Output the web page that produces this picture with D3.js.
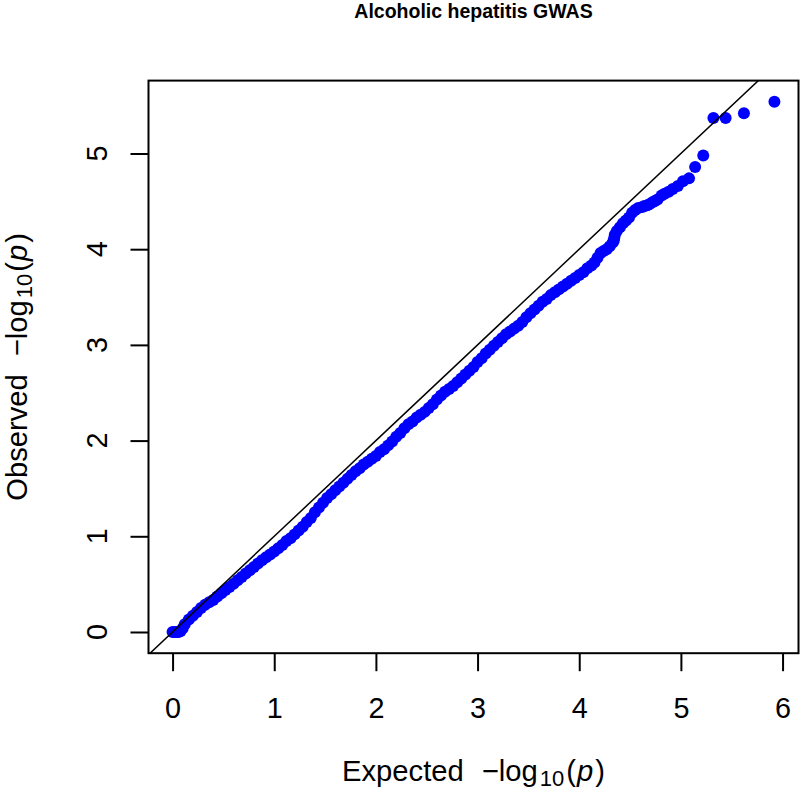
<!DOCTYPE html>
<html><head><meta charset="utf-8">
<script src="https://cdn.jsdelivr.net/npm/d3@7"></script>
<style>body{margin:0;background:#fff} svg{display:block;font-family:"Liberation Sans",Arial,Helvetica,sans-serif}</style>
</head><body><svg id="c" width="800" height="791"></svg>
<script>
const title = "Alcoholic hepatitis GWAS";
const xTicks = [0, 1, 2, 3, 4, 5, 6];
const yTicks = [0, 1, 2, 3, 4, 5];
const expected = [5.92,5.62,5.44,5.32,5.22,5.14,5.08,5.02,4.97,4.92,4.88,4.84,4.81,4.77,4.74,4.72,4.69,4.67,4.64,4.62,4.58,4.55,4.52,4.49,4.46,4.43,4.40,4.37,4.35,4.345,4.34,4.33,4.30,4.27,4.24,4.21,4.18,4.15,4.12,4.08,4.04,4.00,
3.96,3.92,3.88,3.84,3.80,3.76,3.72,3.68,3.64,3.60,3.56,3.52,3.48,3.44,3.40,3.36,3.32,3.28,3.24,3.20,3.16,3.12,3.08,3.04,3.00,2.96,2.92,2.88,2.84,2.80,2.76,2.72,2.68,2.64,2.60,2.56,2.52,2.48,2.44,2.40,2.36,2.32,2.28,2.24,2.20,2.16,2.12,2.08,2.04,2.00,1.96,1.92,1.88,1.84,1.80,1.76,1.72,1.68,1.64,1.60,1.56,1.52,1.48,1.44,1.40,1.36,1.32,1.28,1.24,1.20,1.16,1.12,1.08,1.04,1.00,0.96,0.92,0.88,0.84,0.80,0.76,0.72,0.68,0.64,0.60,0.56,0.52,0.48,0.44,0.40,0.36,0.32,0.28,0.24,0.20,0.16,0.12,0.10,0.08,0.06,0.04,0.02,0.00];
const observed = [5.54,5.42,5.37,5.37,4.98,4.86,4.74,4.71,4.66,4.63,4.60,4.58,4.56,4.52,4.50,4.49,4.47,4.46,4.45,4.44,4.43,4.41,4.38,4.33,4.30,4.27,4.23,4.19,4.15,4.12,4.09,4.07,4.03,4.00,3.98,3.96,3.91,3.86,3.83,3.80,3.76,3.73,
3.70,3.67,3.64,3.61,3.58,3.55,3.52,3.48,3.45,3.41,3.37,3.33,3.29,3.24,3.20,3.17,3.14,3.11,3.07,3.03,2.99,2.95,2.91,2.86,2.82,2.77,2.73,2.69,2.65,2.61,2.57,2.54,2.51,2.47,2.43,2.38,2.34,2.30,2.27,2.24,2.20,2.17,2.13,2.08,2.04,1.99,1.95,1.91,1.88,1.84,1.81,1.78,1.75,1.71,1.68,1.64,1.60,1.56,1.52,1.48,1.44,1.40,1.35,1.30,1.25,1.19,1.15,1.10,1.06,1.02,0.98,0.95,0.91,0.875,0.84,0.81,0.78,0.75,0.715,0.68,0.645,0.61,0.575,0.54,0.505,0.47,0.44,0.405,0.37,0.335,0.31,0.285,0.25,0.21,0.17,0.13,0.08,0.04,0.01,0.00,0.00,0.00,0.00];

const svg = d3.select("#c");
const L = 148.5, R = 798.5, T = 80.6, B = 653.2;
function ext(a){ const [lo, hi] = d3.extent(a); const d = (hi - lo) * 0.04; return [lo - d, hi + d]; }
const x = d3.scaleLinear().domain(ext(expected)).range([L, R]);
const y = d3.scaleLinear().domain(ext(observed)).range([B, T]);

svg.append("defs").append("clipPath").attr("id", "clip")
  .append("rect").attr("x", L).attr("y", T).attr("width", R - L).attr("height", B - T);

// points
const pts = expected.map((e, i) => ({e, o: observed[i]}));
svg.append("g").selectAll("circle").data(pts).join("circle")
  .attr("cx", d => x(d.e)).attr("cy", d => y(d.o)).attr("r", 6)
  .attr("fill", "#0000ff");

// diagonal y = x
const dlo = Math.min(x.domain()[0], y.domain()[0]) - 1, dhi = Math.max(x.domain()[1], y.domain()[1]) + 1;
svg.append("line").attr("clip-path", "url(#clip)")
  .attr("x1", x(dlo)).attr("y1", y(dlo)).attr("x2", x(dhi)).attr("y2", y(dhi))
  .attr("stroke", "#000").attr("stroke-width", 1.5);

// box
svg.append("rect").attr("x", L).attr("y", T).attr("width", R - L).attr("height", B - T)
  .attr("fill", "none").attr("stroke", "#000").attr("stroke-width", 2);

const FS = 28.8;
// x axis
const gx = svg.append("g").attr("transform", `translate(0,${B})`)
  .call(d3.axisBottom(x).tickValues(xTicks).tickSize(18).tickPadding(26).tickFormat(d3.format("d")));
gx.select(".domain").remove();
gx.selectAll(".tick line").attr("stroke", "#000").attr("stroke-width", 2);
gx.selectAll(".tick text").attr("font-size", FS).attr("font-family", "Liberation Sans, Arial, sans-serif").attr("fill", "#000");

// y axis
const gy = svg.append("g").attr("transform", `translate(${L},0)`)
  .call(d3.axisLeft(y).tickValues(yTicks).tickSize(18).tickFormat(""));
gy.select(".domain").remove();
gy.selectAll(".tick line").attr("stroke", "#000").attr("stroke-width", 2);
svg.append("g").selectAll("text").data(yTicks).join("text")
  .attr("transform", d => `translate(107,${y(d)}) rotate(-90)`)
  .attr("text-anchor", "middle").attr("font-size", FS).attr("fill", "#000")
  .text(d => d);

// axis titles
function mathLabel(sel, word){
  sel.attr("font-size", 29.2).attr("fill", "#000").attr("text-anchor", "middle");
  sel.append("tspan").text(word);
  sel.append("tspan").attr("dx", 18).text("\u2212log");
  sel.append("tspan").attr("font-size", 22).attr("dx", 2).attr("dy", 5).text("10");
  sel.append("tspan").attr("dx", 2).attr("dy", -5).text("(");
  sel.append("tspan").attr("font-style", "italic").attr("dx", 1).text("p");
  sel.append("tspan").attr("dx", 2).text(")");
}
mathLabel(svg.append("text").attr("x", (L + R) / 2).attr("y", 781), "Expected");
mathLabel(svg.append("text").attr("transform", `translate(26.5,${(T + B) / 2}) rotate(-90)`), "Observed");

// title
svg.append("text").attr("x", (L + R) / 2).attr("y", 18).attr("text-anchor", "middle")
  .attr("font-size", 19.5).attr("font-weight", "bold").attr("fill", "#000").text(title);
</script></body></html>
